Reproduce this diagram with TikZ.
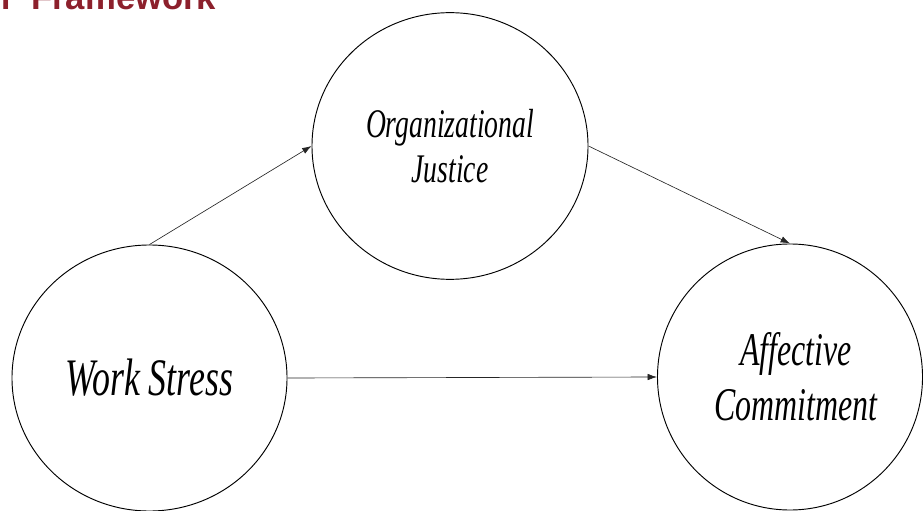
\documentclass[tikz,border=0pt]{standalone}
\usepackage{fontspec}
\usepackage{tikz}
\usetikzlibrary{arrows.meta, positioning, shapes.geometric}
\newfontfamily\tallserif[FakeStretch=0.68]{Liberation Serif}
\newfontfamily\titlesans{Liberation Sans}
\definecolor{titlered}{RGB}{140,32,44}

\begin{document}
\begin{tikzpicture}[x=0.03cm, y=-0.03cm,
      construct/.style={ellipse, draw, line width=0.8pt, inner sep=0pt, align=center,
        font=\tallserif\itshape},
      link/.style={-{Latex[length=8pt,width=5.5pt]}, line width=0.55pt, black!85}]

      \clip (0,0) rectangle (923,511);

      \node[anchor=base west, text=titlered, inner sep=0pt,
        font=\titlesans\bfseries\fontsize{29.6}{32}\selectfont] (title) at (-11,10) {n\hspace{0.6em}Framework};

      \node[construct, minimum width=8.25cm, minimum height=7.98cm,
        font=\tallserif\itshape\fontsize{45}{50}\selectfont] (stress) at (149.5,378) {Work Stress};
      \node[construct, minimum width=8.28cm, minimum height=8.0cm,
        font=\tallserif\itshape\fontsize{34.7}{38}\selectfont] (justice) at (450,146) {Organizational\\Justice};
      \node[construct, minimum width=7.95cm, minimum height=7.98cm,
        font=\tallserif\itshape\fontsize{40}{47}\selectfont] (commit) at (790,377)
        {\hspace*{0.36cm}Affective\\\hspace*{0.36cm}Commitment};

      % Arrows
      \draw[link] (stress.north) -- (justice.west);
      \draw[link] (justice.east) -- (commit.north);
      \draw[link] (stress.east) -- (commit.west);
    \end{tikzpicture}
\end{document}
